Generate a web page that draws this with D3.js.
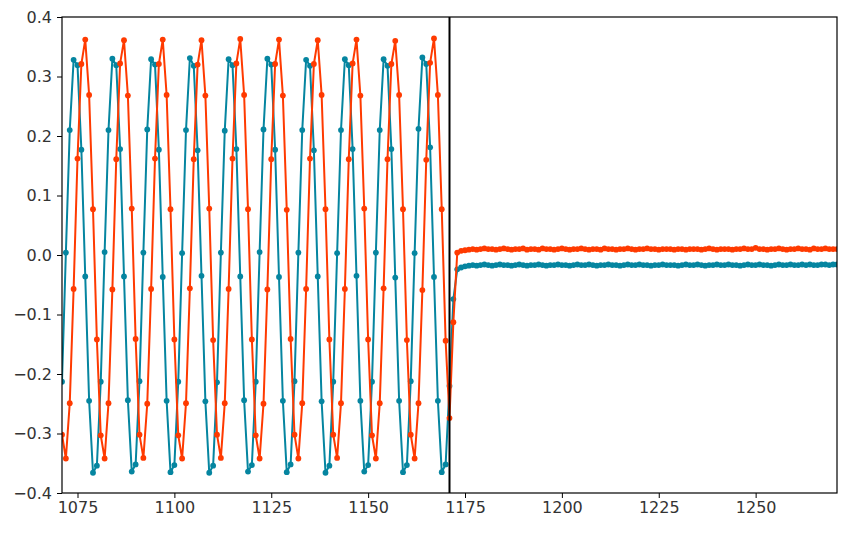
<!DOCTYPE html>
<html>
<head>
<meta charset="utf-8">
<script src="https://cdn.jsdelivr.net/npm/d3@7"></script>
<style>
  html, body { margin: 0; padding: 0; background: #fff; }
  svg text { font-family: "DejaVu Sans", sans-serif; font-size: 16px; fill: #333; }
</style>
</head>
<body>
<svg id="chart" width="847" height="534"></svg>
<script>
// ---- data ----
const xStart = 1071;
const xEnd = 1271;
const markerX = 1171;
const xTicks = [1075, 1100, 1125, 1150, 1175, 1200, 1225, 1250];
const yTicks = [-0.4, -0.3, -0.2, -0.1, 0.0, 0.1, 0.2, 0.3, 0.4];

const tealValues = [
  -0.213, 0.004, 0.210, 0.328, 0.319, 0.177, -0.036, -0.245, -0.366, -0.354,
  -0.213, 0.005, 0.210, 0.330, 0.319, 0.178, -0.036, -0.244, -0.364, -0.352,
  -0.212, 0.004, 0.211, 0.329, 0.320, 0.177, -0.037, -0.245, -0.365, -0.353,
  -0.213, 0.003, 0.210, 0.331, 0.318, 0.176, -0.035, -0.246, -0.366, -0.354,
  -0.214, 0.004, 0.209, 0.329, 0.319, 0.178, -0.036, -0.244, -0.364, -0.353,
  -0.213, 0.005, 0.211, 0.330, 0.320, 0.177, -0.037, -0.245, -0.365, -0.352,
  -0.212, 0.004, 0.210, 0.328, 0.318, 0.176, -0.036, -0.246, -0.366, -0.354,
  -0.213, 0.003, 0.210, 0.329, 0.319, 0.178, -0.035, -0.245, -0.364, -0.353,
  -0.213, 0.004, 0.210, 0.329, 0.318, 0.178, -0.038, -0.245, -0.365, -0.353,
  -0.212, 0.003, 0.212, 0.332, 0.321, 0.181, -0.037, -0.245, -0.365, -0.352,
  -0.220, -0.074,
  -0.024,-0.021,-0.019,-0.018,-0.017,-0.018,-0.017,-0.016,-0.017,-0.018,
  -0.017,-0.016,-0.017,-0.017,-0.018,-0.017,-0.016,-0.017,-0.018,-0.017,
  -0.017,-0.016,-0.017,-0.018,-0.017,-0.017,-0.016,-0.017,-0.017,-0.018,
  -0.017,-0.016,-0.017,-0.017,-0.016,-0.017,-0.018,-0.017,-0.017,-0.016,
  -0.017,-0.017,-0.018,-0.017,-0.016,-0.017,-0.017,-0.016,-0.017,-0.017,
  -0.018,-0.017,-0.017,-0.016,-0.017,-0.017,-0.017,-0.018,-0.017,-0.016,
  -0.017,-0.017,-0.016,-0.017,-0.018,-0.017,-0.017,-0.016,-0.017,-0.017,
  -0.016,-0.017,-0.017,-0.018,-0.017,-0.016,-0.017,-0.017,-0.016,-0.017,
  -0.017,-0.018,-0.017,-0.016,-0.017,-0.017,-0.016,-0.017,-0.017,-0.016,
  -0.017,-0.016,-0.017,-0.017,-0.016,-0.016,-0.017,-0.016,-0.016
];

const redValues = [
  -0.302, -0.342, -0.249, -0.057, 0.162, 0.321, 0.362, 0.269, 0.077, -0.142,
  -0.303, -0.342, -0.249, -0.058, 0.161, 0.322, 0.361, 0.268, 0.078, -0.141,
  -0.302, -0.341, -0.250, -0.057, 0.162, 0.321, 0.362, 0.269, 0.077, -0.142,
  -0.303, -0.342, -0.249, -0.056, 0.161, 0.320, 0.361, 0.268, 0.078, -0.143,
  -0.302, -0.341, -0.249, -0.057, 0.162, 0.322, 0.363, 0.269, 0.077, -0.142,
  -0.303, -0.342, -0.250, -0.058, 0.161, 0.321, 0.362, 0.268, 0.076, -0.141,
  -0.302, -0.342, -0.249, -0.057, 0.162, 0.321, 0.361, 0.269, 0.077, -0.142,
  -0.302, -0.341, -0.249, -0.057, 0.161, 0.322, 0.362, 0.268, 0.078, -0.142,
  -0.303, -0.342, -0.249, -0.056, 0.161, 0.321, 0.360, 0.269, 0.077, -0.143,
  -0.302, -0.342, -0.249, -0.059, 0.160, 0.323, 0.364, 0.269, 0.077, -0.144,
  -0.274, -0.113,
  0.004,0.007,0.008,0.009,0.010,0.009,0.010,0.011,0.010,0.010,
  0.009,0.010,0.011,0.010,0.009,0.010,0.010,0.011,0.009,0.010,
  0.010,0.009,0.011,0.010,0.010,0.009,0.010,0.011,0.010,0.009,
  0.010,0.010,0.011,0.010,0.009,0.010,0.010,0.009,0.011,0.010,
  0.010,0.009,0.010,0.010,0.011,0.010,0.009,0.010,0.010,0.011,
  0.010,0.010,0.009,0.010,0.010,0.010,0.009,0.010,0.010,0.009,
  0.010,0.010,0.010,0.009,0.010,0.011,0.010,0.009,0.010,0.010,
  0.010,0.009,0.010,0.010,0.011,0.010,0.010,0.012,0.010,0.010,
  0.009,0.010,0.010,0.011,0.010,0.009,0.010,0.010,0.011,0.010,
  0.010,0.009,0.011,0.010,0.010,0.011,0.010,0.010,0.010
];

const xValues = d3.range(xStart, xStart + tealValues.length);

// ---- layout ----
const svg = d3.select("#chart");
const mLeft = 62, mRight = 837, mTop = 17, mBottom = 493;

const x = d3.scaleLinear().domain([xStart, xEnd]).range([mLeft, mRight]);
const y = d3.scaleLinear().domain([-0.4, 0.4]).range([mBottom, mTop]);

svg.append("defs").append("clipPath").attr("id", "plotclip")
  .append("rect").attr("x", mLeft).attr("y", mTop)
  .attr("width", mRight - mLeft).attr("height", mBottom - mTop);

const plot = svg.append("g").attr("clip-path", "url(#plotclip)");

const series = [
  { name: "teal", values: tealValues, color: "#0585a0" },
  { name: "red", values: redValues, color: "#ff3a00" }
];

const line = d3.line().x(d => x(d[0])).y(d => y(d[1]));

series.forEach(s => {
  const pts = xValues.map((xv, i) => [xv, s.values[i]]);
  plot.append("path").datum(pts)
    .attr("fill", "none").attr("stroke", s.color)
    .attr("stroke-width", 2).attr("stroke-linejoin", "round")
    .attr("d", line);
  plot.selectAll(null).data(pts).enter().append("circle")
    .attr("cx", d => x(d[0])).attr("cy", d => y(d[1]))
    .attr("r", 2.9).attr("fill", s.color);
});

// vertical marker line
svg.append("line")
  .attr("x1", x(markerX)).attr("x2", x(markerX))
  .attr("y1", mTop).attr("y2", mBottom)
  .attr("stroke", "#000").attr("stroke-width", 2);

// frame
svg.append("rect").attr("x", mLeft).attr("y", mTop)
  .attr("width", mRight - mLeft).attr("height", mBottom - mTop)
  .attr("fill", "none").attr("stroke", "#000").attr("stroke-width", 1.2);

// axes
const xAxis = d3.axisBottom(x).tickValues(xTicks).tickSize(5).tickPadding(4)
  .tickFormat(d3.format("d"));
const gx = svg.append("g").attr("transform", `translate(0,${mBottom})`).call(xAxis);
gx.select(".domain").remove();
gx.selectAll("line").attr("stroke", "#000");
gx.selectAll("text").style("font-size", "16px").attr("fill", "#333");

const yAxis = d3.axisLeft(y).tickValues(yTicks).tickSize(5).tickPadding(5)
  .tickFormat(d => d3.format(".1f")(d).replace("-", "\u2212"));
const gy = svg.append("g").attr("transform", `translate(${mLeft},0)`).call(yAxis);
gy.select(".domain").remove();
gy.selectAll("line").attr("stroke", "#000");
gy.selectAll("text").style("font-size", "16px").attr("fill", "#333");
</script>
</body>
</html>
